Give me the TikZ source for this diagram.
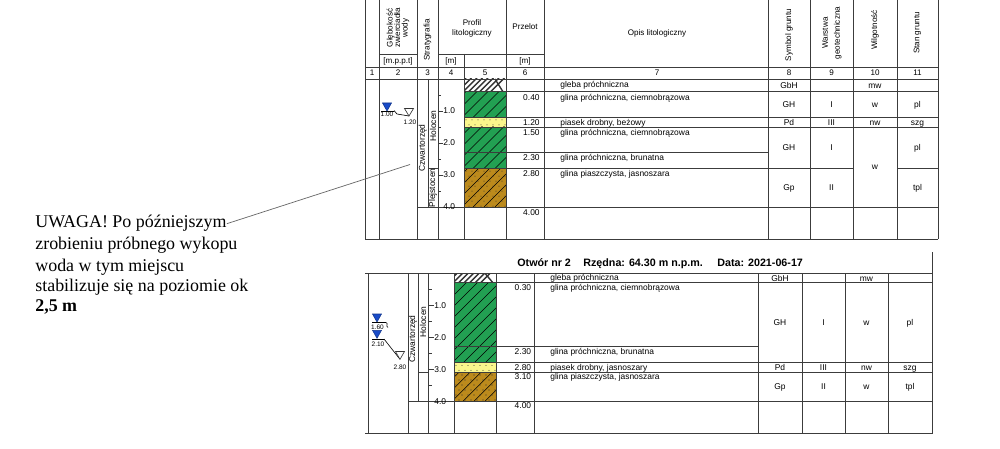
\documentclass[tikz,border=0pt]{standalone}
\usepackage{fontspec}
\setmainfont{Liberation Sans}
\newfontfamily\szeryf{Liberation Serif}

\definecolor{zielony}{RGB}{34,160,82}
\definecolor{brazowy}{RGB}{188,138,28}
\definecolor{zolty}{RGB}{250,246,140}
\definecolor{niebieski}{RGB}{25,75,200}
\definecolor{ramka}{RGB}{60,60,60}

\tikzset{
    linia/.style={line width=0.5pt, draw=ramka},
    kreska/.style={line width=0.3pt, black},
    opis/.style={font=\fontsize{4.8}{5.6}\selectfont, inner sep=0pt},
    naglowek/.style={opis, font=\fontsize{4.6}{5.7}\selectfont, align=center},
    pion/.style={naglowek, rotate=90},
    maly/.style={font=\fontsize{3.7}{4}\selectfont, inner sep=0pt},
    tytul/.style={font=\fontsize{6.1}{7}\selectfont\bfseries, inner sep=0pt},
    uwaga/.style={font=\szeryf\fontsize{10.2}{12}\selectfont, inner sep=0pt},
    lustro/.style={fill=niebieski, draw=niebieski!70!black, line width=0.3pt},
    ustalone/.style={draw=black!80, line width=0.35pt, fill=white},
    odnosnik/.style={draw=black!60, line width=0.4pt}
}

% warstwy profilu: x1, y1, x2, y2
\newcommand{\gleba}[4]{%
    \fill[white] (#1,#2) rectangle (#3,#4);
    \begin{scope}
        \clip (#1,#2) rectangle (#3,#4);
        \foreach \k in {-12,-6.5,...,30}
            \draw[line width=0.8pt, black!80] ({#1+\k},#4) -- ++(14,-14);
        \draw[line width=0.8pt, black!80] ({#3-11},#2) -- ++(8,{#4-#2});
    \end{scope}}
\newcommand{\glina}[5]{%
    \fill[#5] (#1,#2) rectangle (#3,#4);
    \begin{scope}
        \clip (#1,#2) rectangle (#3,#4);
        \foreach \k in {-90,-79,...,50}
            \draw[kreska] ({#1+\k},#4) -- ++(100,-100);
    \end{scope}}
\newcommand{\kropki}[4]{%
    \begin{scope}
        \clip (#1,#2) rectangle (#3,#4);
        \foreach \j in {0,...,20}
            \foreach \i in {0,...,7}
                \fill[black!80] ({#1+2+6*\i+3*mod(\j,2)},{#2+2.5+5*\j}) circle[radius=0.3pt];
    \end{scope}}

\begin{document}
\begin{tikzpicture}[x=0.02cm, y=-0.02cm]
        \useasboundingbox (0,0) rectangle (1000,449);
        \fill[white] (0,0) rectangle (1000,449);

        % profil - otwor 1
        \gleba{464}{79}{506}{91.8}
        \glina{464}{91.8}{506}{117.4}{zielony}
        \fill[zolty] (464,117.4) rectangle (506,127);
        \kropki{464}{117.4}{506}{127}
        \glina{464}{127}{506}{168.6}{zielony}
        \glina{464}{168.6}{506}{207}{brazowy}
        \kropki{464}{168.6}{506}{207}

        % profil - otwor 2
        \gleba{454}{273.3}{496}{282.9}
        \glina{454}{282.9}{496}{362.9}{zielony}
        \fill[zolty] (454,362.9) rectangle (496,372.5);
        \kropki{454}{362.9}{496}{372.5}
        \glina{454}{372.5}{496}{401.3}{brazowy}
        \kropki{454}{372.5}{496}{401.3}

        % tabela 1 - linie
        \draw[linia] (365,0) -- (365,240);
        \foreach \x in {379,417.5,438,506,544,768,810,853,897,938}
            \draw[linia] (\x,0) -- (\x,239);
        \draw[linia] (464,54) -- (464,239);
        \draw[linia] (428,79) -- (428,207);

        \draw[linia] (379,54) -- (417.5,54);
        \draw[linia] (438,54) -- (544,54);
        \draw[linia] (365,67.5) -- (938,67.5);
        \draw[linia] (365,79) -- (938,79);
        \draw[linia] (464,91.8) -- (938,91.8);
        \draw[linia] (464,117.4) -- (938,117.4);
        \draw[linia] (464,127) -- (938,127);
        \draw[linia] (464,152.6) -- (768,152.6);
        \draw[linia] (428,168.6) -- (438,168.6);
        \draw[linia] (464,168.6) -- (853,168.6);
        \draw[linia] (897,168.6) -- (938,168.6);
        \draw[linia] (417.5,207) -- (938,207);
        \draw[linia] (365,239) -- (938,239);

        % naglowek
        \node[pion, font=\fontsize{4.6}{4.3}\selectfont] (h2) at (398,28) {Głębokość\\zwierciadła\\wody};
        \node[naglowek] (h2j) at (398,61) {[m.p.p.t]};
        \node[pion] (h3) at (427.5,40) {Stratygrafia};
        \node[naglowek] (h45) at (472,28) {Profil\\litologiczny};
        \node[naglowek] (h4j) at (451,61) {[m]};
        \node[naglowek] (h6) at (525,27) {Przelot};
        \node[naglowek] (h6j) at (525,61) {[m]};
        \node[naglowek] (h7) at (657,33) {Opis litologiczny};
        \node[pion] (h8) at (789,35) {Symbol gruntu};
        \node[pion, font=\fontsize{4.6}{6.8}\selectfont] (h9) at (832,33) {Warstwa\\geotechniczna};
        \node[pion] (h10) at (875,30) {Wilgotność};
        \node[pion] (h11) at (917.5,33) {Stan gruntu};
        \foreach \n/\x in {1/372,2/398,3/427.7,4/451,5/485,6/525,7/657,8/789,9/831.5,10/875,11/917.5}
            \node[naglowek, anchor=base] (nr\n) at (\x,75.5) {\n};

        % stratygrafia i skala
        \node[pion, opis] (s1) at (422.7,148) {Czwartorzęd};
        \node[pion, opis] (s2) at (433,126) {Holocen};
        \node[pion, opis] (s3) at (433,188) {Plejstocen};
        \foreach \d in {1,2,3,4}
            \draw[linia] (438,{79+32*\d}) -- ++(5,0) node[opis, anchor=west, name=ga\d] {\d.0};
        \foreach \d in {0.5,1.5,2.5,3.5}
            \draw[linia] (438,{79+32*\d}) -- ++(3,0);

        % zwierciadlo wody - otwor 1
        \coordinate (zw1) at (387,111);
        \coordinate (zw2) at (409,116);
        \fill[lustro] (382.5,103) -- (391.5,103) -- (zw1) -- cycle;
        \draw[line width=0.4pt] (381,111.3) -- (394,111.3);
        \draw[line width=0.35pt] (394,110.5) .. controls (397,111) and (394,113.5) .. (397,114);
        \draw[line width=0.35pt] (397,114) -- (zw2);
        \draw[ustalone] (404.5,108.5) -- (413.5,108.5) -- (zw2) -- cycle;
        \node[maly, anchor=north] (zw1t) at (387,111.8) {1.00};
        \node[maly, anchor=north] (zw2t) at (410,119.5) {1.20};

        % opis - otwor 1
        \node[opis, anchor=base west] (oa1) at (560,87.3) {gleba próchniczna};
        \node[opis, anchor=base west] (oa2) at (560,100.1) {glina próchniczna, ciemnobrązowa};
        \node[opis, anchor=base west] (oa3) at (560,125.7) {piasek drobny, beżowy};
        \node[opis, anchor=base west] (oa4) at (560,135.3) {glina próchniczna, ciemnobrązowa};
        \node[opis, anchor=base west] (oa5) at (560,160.9) {glina próchniczna, brunatna};
        \node[opis, anchor=base west] (oa6) at (560,176.9) {glina piaszczysta, jasnoszara};

        \node[opis, anchor=base east] (pa1) at (540,100.1) {0.40};
        \node[opis, anchor=base east] (pa2) at (540,125.7) {1.20};
        \node[opis, anchor=base east] (pa3) at (540,135.3) {1.50};
        \node[opis, anchor=base east] (pa4) at (540,160.9) {2.30};
        \node[opis, anchor=base east] (pa5) at (540,176.9) {2.80};
        \node[opis, anchor=base east] (pa6) at (540,215.3) {4.00};

        \node[opis, anchor=base] (ga81) at (789,88.4) {GbH};
        \node[opis, anchor=base] (ga101) at (875,88.4) {mw};
        \node[opis, anchor=base] (ga82) at (789,107.6) {GH};
        \node[opis, anchor=base] (ga92) at (831.5,107.6) {I};
        \node[opis, anchor=base] (ga102) at (875,107.6) {w};
        \node[opis, anchor=base] (ga112) at (917.5,107.6) {pl};
        \node[opis, anchor=base] (ga83) at (789,125.2) {Pd};
        \node[opis, anchor=base] (ga93) at (831.5,125.2) {III};
        \node[opis, anchor=base] (ga103) at (875,125.2) {nw};
        \node[opis, anchor=base] (ga113) at (917.5,125.2) {szg};
        \node[opis, anchor=base] (ga84) at (789,150.8) {GH};
        \node[opis, anchor=base] (ga94) at (831.5,150.8) {I};
        \node[opis, anchor=base] (ga114) at (917.5,150.8) {pl};
        \node[opis, anchor=base] (ga104) at (875,170) {w};
        \node[opis, anchor=base] (ga85) at (789,190.8) {Gp};
        \node[opis, anchor=base] (ga95) at (831.5,190.8) {II};
        \node[opis, anchor=base] (ga115) at (917.5,190.8) {tpl};

        % uwaga
        \node[uwaga, anchor=base west] (u1) at (35,228) {UWAGA! Po późniejszym};
        \node[uwaga, anchor=base west] (u2) at (35,250) {zrobieniu próbnego wykopu};
        \node[uwaga, anchor=base west] (u3) at (35,271) {woda w tym miejscu};
        \node[uwaga, anchor=base west] (u4) at (35,291.5) {stabilizuje się na poziomie ok};
        \node[uwaga, anchor=base west] (u5) at (35,311) {\bfseries 2,5 m};
        \coordinate (wskaz) at (410,164.5);
        \draw[odnosnik] (u1.east) -- (wskaz);

        % tabela 2
        \node[tytul, anchor=base west] (t1) at (517,266) {Otwór nr 2};
        \node[tytul, anchor=base west] (t2) at (583,266) {Rzędna: 64.30 m n.p.m.};
        \node[tytul, anchor=base west] (t3) at (717,266) {Data: 2021-06-17};

        \foreach \x in {368,408,428,454,496,534,758,802,845,888}
            \draw[linia] (\x,273.3) -- (\x,433);
        \draw[linia] (418,273.3) -- (418,401.3);
        \draw[linia] (932,252) -- (932,434);

        \draw[linia] (365,273.3) -- (932,273.3);
        \draw[linia] (454,282.9) -- (932,282.9);
        \draw[linia] (454,346.9) -- (758,346.9);
        \draw[linia] (454,362.9) -- (932,362.9);
        \draw[linia] (418,372.5) -- (428,372.5);
        \draw[linia] (454,372.5) -- (932,372.5);
        \draw[linia] (408,401.3) -- (932,401.3);
        \draw[linia] (365,433) -- (932,433);

        \node[pion, opis] (s4) at (413,339) {Czwartorzęd};
        \node[pion, opis] (s5) at (423,322) {Holocen};
        \foreach \d in {1,2,3,4}
            \draw[linia] (428,{273.3+32*\d}) -- ++(6,0) node[opis, anchor=west, name=gb\d] {\d.0};
        \foreach \d in {0.5,1.5,2.5,3.5}
            \draw[linia] (428,{273.3+32*\d}) -- ++(4,0);

        % zwierciadlo wody - otwor 2
        \coordinate (zw3) at (377,322);
        \coordinate (zw4) at (377,338.3);
        \coordinate (zw5) at (400,359.3);
        \fill[lustro] (372.5,314) -- (381.5,314) -- (zw3) -- cycle;
        \draw[line width=0.4pt] (372,322.5) -- (386,322.5);
        \draw[line width=0.35pt] (386,322.5) .. controls (389,323.5) and (385,326) .. (388,327.5);
        \fill[lustro] (372.5,330.3) -- (381.5,330.3) -- (zw4) -- cycle;
        \draw[line width=0.4pt] (372,339) -- (384,339);
        \draw[line width=0.35pt] (384,339) -- (zw5);
        \draw[ustalone] (395.5,351.5) -- (404.5,351.5) -- (zw5) -- cycle;
        \node[maly, anchor=north] (zw3t) at (377.5,324.5) {1.60};
        \node[maly, anchor=north] (zw4t) at (378,341.5) {2.10};
        \node[maly, anchor=north] (zw5t) at (400,364.5) {2.80};

        % opis - otwor 2
        \node[opis, anchor=base west] (ob1) at (550,280.5) {gleba próchniczna};
        \node[opis, anchor=base west] (ob2) at (550,290.1) {glina próchniczna, ciemnobrązowa};
        \node[opis, anchor=base west] (ob3) at (550,354.1) {glina próchniczna, brunatna};
        \node[opis, anchor=base west] (ob4) at (550,370.1) {piasek drobny, jasnoszary};
        \node[opis, anchor=base west] (ob5) at (550,379.7) {glina piaszczysta, jasnoszara};

        \node[opis, anchor=base east] (pb1) at (531.5,290.1) {0.30};
        \node[opis, anchor=base east] (pb2) at (531.5,354.1) {2.30};
        \node[opis, anchor=base east] (pb3) at (531.5,370.1) {2.80};
        \node[opis, anchor=base east] (pb4) at (531.5,379.7) {3.10};
        \node[opis, anchor=base east] (pb5) at (531.5,408.5) {4.00};

        \node[opis, anchor=base] (gb81) at (780,281.1) {GbH};
        \node[opis, anchor=base] (gb101) at (866.5,281.1) {mw};
        \node[opis, anchor=base] (gb82) at (780,325.9) {GH};
        \node[opis, anchor=base] (gb92) at (823.5,325.9) {I};
        \node[opis, anchor=base] (gb102) at (866.5,325.9) {w};
        \node[opis, anchor=base] (gb112) at (910,325.9) {pl};
        \node[opis, anchor=base] (gb83) at (780,370.7) {Pd};
        \node[opis, anchor=base] (gb93) at (823.5,370.7) {III};
        \node[opis, anchor=base] (gb103) at (866.5,370.7) {nw};
        \node[opis, anchor=base] (gb113) at (910,370.7) {szg};
        \node[opis, anchor=base] (gb84) at (780,389.9) {Gp};
        \node[opis, anchor=base] (gb94) at (823.5,389.9) {II};
        \node[opis, anchor=base] (gb104) at (866.5,389.9) {w};
        \node[opis, anchor=base] (gb114) at (910,389.9) {tpl};
    \end{tikzpicture}
\end{document}
